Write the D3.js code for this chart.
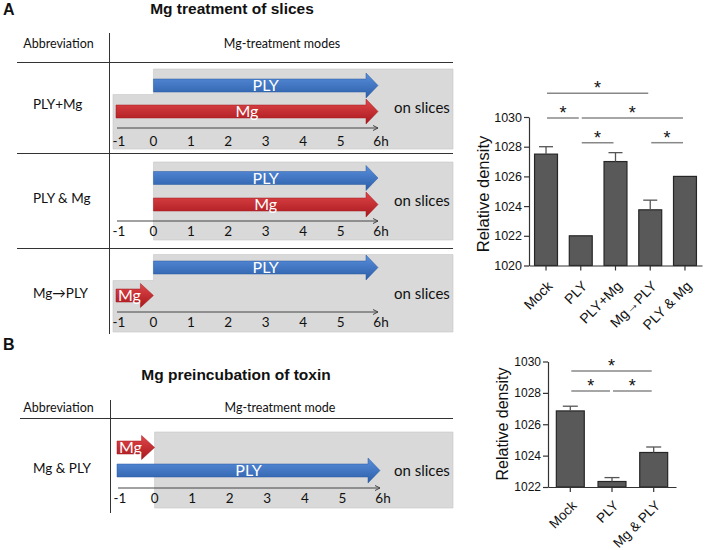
<!DOCTYPE html>
<html><head><meta charset="utf-8">
<script src="https://cdn.jsdelivr.net/npm/d3@7"></script>
<style>body{margin:0;background:#fff}svg{display:block}</style>
</head><body>
<svg id="fig" width="709" height="550"></svg>
<script>
// ---------------- DATA ----------------
const hourTicks = [-1, 0, 1, 2, 3, 4, 5, 6];
const hourLabels = ["-1", "0", "1", "2", "3", "4", "5", "6h"];

// Panel A timeline rows
const rowNamesA = ["PLY+Mg", "PLY & Mg", "Mg\u2192PLY"];
const arrowLabelsA = [["PLY", "Mg"], ["PLY", "Mg"], ["PLY", "Mg"]];
const arrowStartsA = [[0, -1], [0, 0], [0, -1]];
const arrowEndsA = [[6, 6], [6, 6], [6, 0]];
const slicesStartA = [-1, 0, -1];

// Panel B timeline row
const rowNamesB = ["Mg & PLY"];
const arrowLabelsB = [["Mg", "PLY"]];
const arrowStartsB = [[-1, -1]];
const arrowEndsB = [[0, 6]];

// Panel A bar chart
const categoriesA = ["Mock", "PLY", "PLY+Mg", "Mg\u2192PLY", "PLY & Mg"];
const valuesA = [1027.5, 1022.0, 1027.0, 1023.75, 1026.0];
const errorsA = [0.5, 0, 0.6, 0.65, 0];
const yTicksA = [1020, 1022, 1024, 1026, 1028, 1030];
const sigA = [[0, 3, 2], [0, 1, 1], [1, 4, 1], [1, 2, 0], [3, 4, 0]]; // from, to, level

// Panel B bar chart
const categoriesB = ["Mock", "PLY", "Mg & PLY"];
const valuesB = [1026.85, 1022.35, 1024.2];
const errorsB = [0.3, 0.25, 0.35];
const yTicksB = [1022, 1024, 1026, 1028, 1030];
const sigB = [[0, 2, 1], [0, 1, 0], [1, 2, 0]];

// ---------------- LAYOUT ----------------
const svg = d3.select("#fig");
const diagFont = "Lato, 'Open Sans', sans-serif";
const chartFont = "'Liberation Sans', Arial, sans-serif";

const defs = svg.append("defs");
function grad(id, c1, c2) {
  const g = defs.append("linearGradient").attr("id", id).attr("x1", 0).attr("y1", 0).attr("x2", 0).attr("y2", 1);
  g.append("stop").attr("offset", "0%").attr("stop-color", c1);
  g.append("stop").attr("offset", "100%").attr("stop-color", c2);
}
grad("gBlue", "#5a8fdc", "#2b5ea8");
grad("gRed", "#e0474a", "#a8181d");
const arrowFill = {PLY: "url(#gBlue)", Mg: "url(#gRed)"};

function txt(x, y, s, size, opts = {}) {
  return svg.append("text").attr("x", x).attr("y", y).text(s)
    .attr("font-family", opts.font || diagFont).attr("font-size", size)
    .attr("font-weight", opts.bold ? "bold" : "normal")
    .attr("text-anchor", opts.anchor || "start").attr("fill", opts.fill || "#111");
}

// titles
txt(3, 14.5, "A", 16, {bold: true, font: chartFont});
txt(232, 14, "Mg treatment of slices", 15.5, {bold: true, font: chartFont, anchor: "middle"});
txt(3, 350, "B", 16, {bold: true, font: chartFont});
txt(236, 380, "Mg preincubation of toxin", 15.5, {bold: true, font: chartFont, anchor: "middle"});

function hline(x1, x2, y) {
  svg.append("line").attr("x1", x1).attr("x2", x2).attr("y1", y).attr("y2", y).attr("stroke", "#333").attr("stroke-width", 1);
}
function vline(x, y1, y2) {
  svg.append("line").attr("x1", x).attr("x2", x).attr("y1", y1).attr("y2", y2).attr("stroke", "#333").attr("stroke-width", 1);
}

// table A
txt(58.5, 48, "Abbreviation", 12.5, {anchor: "middle"});
txt(282, 48, "Mg-treatment modes", 12.5, {anchor: "middle"});
hline(17, 453, 62.5);
hline(17, 453, 153.5);
hline(17, 453, 248.5);
vline(109.5, 33, 334);

// table B
txt(58.5, 411.5, "Abbreviation", 12.5, {anchor: "middle"});
txt(280, 411.5, "Mg-treatment mode", 12.5, {anchor: "middle"});
hline(20, 453, 418.5);
vline(110.5, 400, 513);

const xA = d3.scaleLinear().domain([-1, 6]).range([116, 378]);
const xB = d3.scaleLinear().domain([-1, 6]).range([117, 380]);

function arrowPath(x0, x1, yc, sh, hh, hl) {
  const p = d3.path();
  const xh = x1 - hl;
  p.moveTo(x0, yc - sh / 2); p.lineTo(xh, yc - sh / 2); p.lineTo(xh, yc - hh / 2);
  p.lineTo(x1, yc); p.lineTo(xh, yc + hh / 2); p.lineTo(xh, yc + sh / 2);
  p.lineTo(x0, yc + sh / 2); p.closePath();
  return p.toString();
}

function drawRow(x, lay, name, labels, starts, ends, grayStart) {
  const right = 453;
  const g = d3.path();
  const xs0 = x(0), xs = x(grayStart) - 3;
  if (grayStart < 0 && lay.step) {
    g.moveTo(xs0, lay.top); g.lineTo(right, lay.top); g.lineTo(right, lay.bottom);
    g.lineTo(xs, lay.bottom); g.lineTo(xs, lay.step); g.lineTo(xs0, lay.step); g.closePath();
  } else {
    g.moveTo(xs0, lay.top); g.lineTo(right, lay.top); g.lineTo(right, lay.bottom); g.lineTo(xs0, lay.bottom); g.closePath();
  }
  svg.append("path").attr("d", g.toString()).attr("fill", "#d9d9d9").attr("stroke", "#c8c8c8").attr("stroke-width", 0.6);

  labels.forEach((lab, i) => {
    const x0 = x(starts[i]), x1 = x(ends[i]);
    const small = (ends[i] - starts[i]) <= 1;
    const yc = lay.y[i];
    svg.append("path").attr("d", arrowPath(x0, x1, yc, 13, small ? 24 : 25, small ? 13 : 12))
      .attr("fill", arrowFill[lab]).attr("stroke", lab === "PLY" ? "#2a5aa0" : "#a01a1e").attr("stroke-width", 0.5);
    const tx = small ? x0 + 2 : (x0 + x1) / 2;
    txt(tx, yc + 5.5, lab, 16, {anchor: small ? "start" : "middle", fill: "#fff"});
  });

  const ax = svg.append("g");
  ax.append("line").attr("x1", x(-1) + 1).attr("x2", x(6)).attr("y1", lay.axis).attr("y2", lay.axis)
    .attr("stroke", "#444").attr("stroke-width", 1);
  ax.append("path").attr("d", `M${x(6) - 5},${lay.axis - 2.5}L${x(6)},${lay.axis}L${x(6) - 5},${lay.axis + 2.5}`)
    .attr("fill", "none").attr("stroke", "#444").attr("stroke-width", 1);
  hourTicks.forEach((h, i) => {
    txt(x(h) + (i === 0 ? 3 : i === hourTicks.length - 1 ? 3 : 0), lay.label, hourLabels[i], 13.5, {anchor: "middle"});
  });

  txt(394, lay.top + 44, "on slices", 15);
  txt(33, lay.name, name, 13.5);
}

const layA = [
  {top: 69, step: 94.5, bottom: 149, y: [85.5, 111.5], axis: 128, label: 146, name: 109},
  {top: 162, bottom: 240, y: [178, 204.5], axis: 221, label: 236, name: 203},
  {top: 254.5, step: 280.5, bottom: 332, y: [267.5, 295.5], axis: 312, label: 327, name: 298}
];
rowNamesA.forEach((n, i) => drawRow(xA, layA[i], n, arrowLabelsA[i], arrowStartsA[i], arrowEndsA[i], slicesStartA[i]));

const layB = [{top: 432, bottom: 508, y: [447.5, 470.5], axis: 488, label: 503, name: 473}];
rowNamesB.forEach((n, i) => drawRow(xB, layB[i], n, arrowLabelsB[i], arrowStartsB[i], arrowEndsB[i], 0));

// ---------------- BAR CHARTS ----------------
function barChart(cats, vals, errs, ticks, sig, o) {
  const g = svg.append("g").attr("font-family", chartFont);
  const x = d3.scaleBand().domain(cats).range(o.xr).paddingInner(o.pi).paddingOuter(o.po);
  const y = d3.scaleLinear().domain([ticks[0], ticks[ticks.length - 1]]).range(o.yr);
  const base = y(ticks[0]);

  g.selectAll("rect.bar").data(cats).join("rect").attr("class", "bar")
    .attr("x", d => x(d)).attr("width", x.bandwidth())
    .attr("y", (d, i) => y(vals[i])).attr("height", (d, i) => base - y(vals[i]))
    .attr("fill", "#595959").attr("stroke", "#262626").attr("stroke-width", 1.2);

  const cw = o.cap;
  cats.forEach((d, i) => {
    if (!errs[i]) return;
    const cx = x(d) + x.bandwidth() / 2;
    g.append("line").attr("x1", cx).attr("x2", cx).attr("y1", y(vals[i])).attr("y2", y(vals[i] + errs[i]))
      .attr("stroke", "#555").attr("stroke-width", 1.3);
    g.append("line").attr("x1", cx - cw / 2).attr("x2", cx + cw / 2).attr("y1", y(vals[i] + errs[i])).attr("y2", y(vals[i] + errs[i]))
      .attr("stroke", "#555").attr("stroke-width", 1.3);
  });

  const ya = g.append("g").attr("transform", `translate(${o.xr[0]},0)`)
    .call(d3.axisLeft(y).tickValues(ticks).tickFormat(d3.format("d")).tickSize(5).tickSizeOuter(0).tickPadding(2));
  ya.select(".domain").attr("stroke", "#333").attr("stroke-width", 1.2);
  ya.selectAll(".tick line").attr("stroke", "#333").attr("stroke-width", 1.2);
  ya.selectAll(".tick text").attr("font-size", o.tickFont).attr("font-family", chartFont).attr("fill", "#111");

  const xa = g.append("g").attr("transform", `translate(0,${base})`)
    .call(d3.axisBottom(x).tickSize(5).tickSizeOuter(0));
  xa.select(".domain").attr("stroke", "#333").attr("stroke-width", 1.2);
  xa.selectAll(".tick line").attr("stroke", "#333").attr("stroke-width", 1.2);
  xa.selectAll(".tick text").attr("font-size", o.xFont).attr("font-family", chartFont).attr("fill", "#111")
    .attr("x", 0).attr("y", 0).attr("dy", "0.35em").attr("text-anchor", "end")
    .attr("transform", `translate(4,${o.xLabDy}) rotate(-45)`);

  g.append("text").attr("transform", `translate(${o.labX},${o.labY}) rotate(-90)`)
    .attr("text-anchor", "middle").attr("font-size", o.labFont).attr("fill", "#111").text("Relative density");

  const cxs = i => x(cats[i]) + x.bandwidth() / 2;
  sig.forEach(([a, b, lev]) => {
    const ly = o.sigBase - lev * o.sigGap;
    const x1 = cxs(a) + 1, x2 = cxs(b) - 2;
    g.append("line").attr("x1", x1).attr("x2", x2).attr("y1", ly).attr("y2", ly)
      .attr("stroke", "#888").attr("stroke-width", 1.5);
    g.append("text").attr("x", (x1 + x2) / 2).attr("y", ly + 1).attr("text-anchor", "middle")
      .attr("font-size", 18).attr("fill", "#111").text("*");
  });
}

barChart(categoriesA, valuesA, errorsA, yTicksA, sigA,
  {xr: [529, 702], yr: [265.5, 117], pi: 0.34, po: 0.16, cap: 14, tickFont: 12.5, xFont: 14, xLabDy: 18,
   labX: 489, labY: 194, labFont: 16.5, sigBase: 142.7, sigGap: 24.7});
barChart(categoriesB, valuesB, errorsB, yTicksB, sigB,
  {xr: [548, 676], yr: [487, 361.5], pi: 0.33, po: 0.2, cap: 15, tickFont: 12, xFont: 13.5, xLabDy: 16,
   labX: 508, labY: 424, labFont: 16, sigBase: 391, sigGap: 20});
</script>
</body></html>
